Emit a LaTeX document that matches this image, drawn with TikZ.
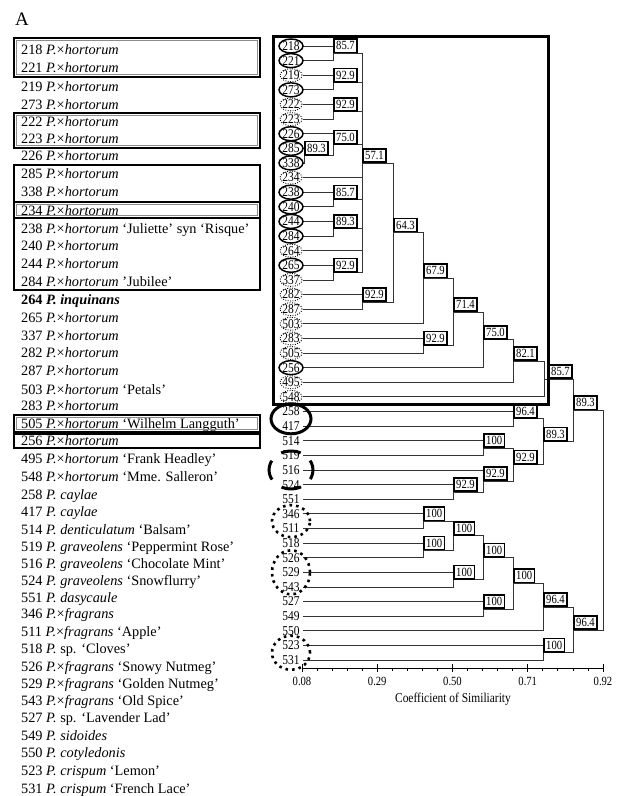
\documentclass[tikz,border=0pt]{standalone}
\usepackage{fontspec}
\setmainfont{Liberation Serif}
\usepackage{graphicx}
\usetikzlibrary{calc}
\newcommand{\cnd}[1]{\scalebox{0.85}[1]{#1}}
\newcommand{\Phort}{\textit{P.}×\textit{hortorum}}
\newcommand{\Pfrag}{\textit{P.}×\textit{fragrans}}
\begin{document}
\begin{tikzpicture}[x=1bp,y=-1bp,
  leaf/.style={inner sep=0pt, font=\fontsize{13.5bp}{14bp}\selectfont},
  lab/.style={anchor=base west, inner sep=0pt, font=\fontsize{14.3bp}{16bp}\selectfont},
  val/.style={draw=black, line width=1.6bp, fill=white, inner xsep=2.4bp, inner ysep=2.4bp, anchor=south west, font=\fontsize{12.5bp}{13bp}\selectfont},
  br/.style={draw=black!80, line width=0.8bp},
  circ/.style={line width=1.5bp},
  dotc/.style={line width=0.9bp, dash pattern=on 0.9bp off 1.5bp},
  grpdot/.style={line width=2.6bp, dash pattern=on 2.6bp off 4bp},
  grpdash/.style={line width=3bp, dash pattern=on 20bp off 12.3bp, dash phase=10bp},
  thickbox/.style={line width=2.6bp},
  innerline/.style={draw=black!45, line width=0.9bp},
  medbox/.style={line width=2bp},
  tick/.style={inner sep=0pt, font=\fontsize{12.5bp}{13bp}\selectfont}
]
\useasboundingbox (0,0) rectangle (618,796);
\fill[white] (0,0) rectangle (618,796);

\node[inner sep=0pt, font=\fontsize{19bp}{20bp}\selectfont] (title) at (22,19) {A};

% ---------- left label column ----------
\node[lab] (t218) at (21,55) {218 \Phort};
\node[lab] (t221) at (21,73) {221 \Phort};
\node[lab] (t219) at (21,91) {219 \Phort};
\node[lab] (t273) at (21,109) {273 \Phort};
\node[lab] (t222) at (21,126) {222 \Phort};
\node[lab] (t223) at (21,143) {223 \Phort};
\node[lab] (t226) at (21,160) {226 \Phort};
\node[lab] (t285) at (21,178) {285 \Phort};
\node[lab] (t338) at (21,196) {338 \Phort};
\node[lab] (t234) at (21,215) {234 \Phort};
\node[lab] (t238) at (21,233.3) {238 \Phort{} ‘Juliette’ syn ‘Risque’};
\node[lab] (t240) at (21,250.7) {240 \Phort};
\node[lab] (t244) at (21,268.3) {244 \Phort};
\node[lab] (t284) at (21,286) {284 \Phort{} 'Jubilee'};
\node[lab] (t264) at (21,304) {\textbf{264 \textit{P. inquinans}}};
\node[lab] (t265) at (21,322.3) {265 \Phort};
\node[lab] (t337) at (21,340) {337 \Phort};
\node[lab] (t282) at (21,357.7) {282 \Phort};
\node[lab] (t287) at (21,375.3) {287 \Phort};
\node[lab] (t503) at (21,394) {503 \Phort{} ‘Petals’};
\node[lab] (t283) at (21,410) {283 \Phort};
\node[lab] (t505) at (21,428) {505 \Phort{} ‘Wilhelm Langguth’};
\node[lab] (t256) at (21,445.5) {256 \Phort};
\node[lab] (t495) at (21,463.5) {495 \Phort{} ‘Frank Headley’};
\node[lab] (t548) at (21,481) {548 \Phort{} ‘Mme. Salleron’};
\node[lab] (t258) at (21,499) {258 \textit{P. caylae}};
\node[lab] (t417) at (21,516.5) {417 \textit{P. caylae}};
\node[lab] (t514) at (21,534) {514 \textit{P. denticulatum} ‘Balsam’};
\node[lab] (t519) at (21,551) {519 \textit{P. graveolens} ‘Peppermint Rose’};
\node[lab] (t516) at (21,568) {516 \textit{P. graveolens} ‘Chocolate Mint’};
\node[lab] (t524) at (21,585) {524 \textit{P. graveolens} ‘Snowflurry’};
\node[lab] (t551) at (21,602) {551 \textit{P. dasycaule}};
\node[lab] (t346) at (21,618.5) {346 \Pfrag};
\node[lab] (t511) at (21,636.5) {511 \Pfrag{} ‘Apple’};
\node[lab] (t518) at (21,653.5) {518 \textit{P.} sp. ‘Cloves’};
\node[lab] (t526) at (21,671) {526 \Pfrag{} ‘Snowy Nutmeg’};
\node[lab] (t529) at (21,688) {529 \Pfrag{} ‘Golden Nutmeg’};
\node[lab] (t543) at (21,705) {543 \Pfrag{} ‘Old Spice’};
\node[lab] (t527) at (21,722.5) {527 \textit{P.} sp. ‘Lavender Lad’};
\node[lab] (t549) at (21,740) {549 \textit{P. sidoides}};
\node[lab] (t550) at (21,757.5) {550 \textit{P. cotyledonis}};
\node[lab] (t523) at (21,775) {523 \textit{P. crispum} ‘Lemon’};
\node[lab] (t531) at (21,793) {531 \textit{P. crispum} ‘French Lace’};

% boxes around labels
\draw[thickbox] (14,38) rectangle (260,77);
\draw[innerline] (16.2,40.2) rectangle (257.8,74.8);
\draw[thickbox] (14,113) rectangle (260,148);
\draw[innerline] (16.2,115.2) rectangle (257.8,145.8);
\draw[medbox] (14,165) rectangle (260,290);
\draw[thickbox] (14,202) rectangle (260,218);
\draw[innerline] (16.2,204.2) rectangle (257.8,215.8);
\draw[thickbox] (14,415) rectangle (260,432);
\draw[innerline] (16.2,417.2) rectangle (257.8,429.8);
\draw[medbox] (14,433.5) rectangle (260,448);

% ---------- dendrogram leaves ----------
\foreach \id [count=\i from 0] in {218,221,219,273,222,223,226,285,338,234,238,240,244,284,264,265,337,282,287,503,283,505,256,495,548,258,417,514,519,516,524,551,346,511,518,526,529,543,527,549,550,523,531}{
  \pgfmathsetmacro\yy{46+14.62*\i}
  \coordinate (p\id) at (303,\yy);
  \node[leaf] (n\id) at (291,\yy) {\cnd{\id}};
}

% internal nodes
\coordinate (k1) at (333,53.3);
\coordinate (k2) at (333,82.6);
\coordinate (k3) at (333,111.8);
\coordinate (k4) at (304,155.7);
\coordinate (k5) at (333,144.7);
\coordinate (k6) at (333,199.5);
\coordinate (k7) at (333,228.8);
\coordinate (k8) at (333,272.6);
\coordinate (k9) at (362,163.0);
\coordinate (k10) at (362,301.9);
\coordinate (k11) at (393,232.4);
\coordinate (k12) at (423,278.1);
\coordinate (k13) at (423,345.7);
\coordinate (k14) at (453,311.9);
\coordinate (k15) at (483,339.8);
\coordinate (k16) at (513,361.0);
\coordinate (k17) at (544,379.0);
\coordinate (k18) at (513,418.8);
\coordinate (k19) at (483,448.0);
\coordinate (k20) at (453,491.9);
\coordinate (k21) at (483,481.0);
\coordinate (k22) at (513,464.5);
\coordinate (k23) at (543,441.7);
\coordinate (k24) at (573,410.3);
\coordinate (k25) at (423,521.2);
\coordinate (k26) at (423,550.4);
\coordinate (k27) at (453,535.8);
\coordinate (k28) at (453,579.6);
\coordinate (k29) at (483,557.7);
\coordinate (k30) at (483,608.9);
\coordinate (k31) at (513,583.3);
\coordinate (k32) at (543,607.0);
\coordinate (k33) at (543,652.7);
\coordinate (k34) at (573,629.9);
\coordinate (k35) at (603,520.1);

\foreach \c/\k in {p218/k1,p221/k1,p219/k2,p273/k2,p222/k3,p223/k3,p285/k4,p338/k4,
  p226/k5,k4/k5,p238/k6,p240/k6,p244/k7,p284/k7,p265/k8,p337/k8,
  k1/k9,k2/k9,k3/k9,k5/k9,p234/k9,k6/k9,k7/k9,p264/k9,k8/k9,
  p282/k10,p287/k10,k9/k11,k10/k11,k11/k12,p503/k12,p283/k13,p505/k13,
  k12/k14,k13/k14,k14/k15,p256/k15,k15/k16,p495/k16,k16/k17,p548/k17,
  p258/k18,p417/k18,p514/k19,p519/k19,p524/k20,p551/k20,p516/k21,k20/k21,
  k19/k22,k21/k22,k18/k23,k22/k23,k17/k24,k23/k24,
  p346/k25,p511/k25,p518/k26,p526/k26,k25/k27,k26/k27,p529/k28,p543/k28,
  k27/k29,k28/k29,p527/k30,p549/k30,k29/k31,k30/k31,k31/k32,p550/k32,
  p523/k33,p531/k33,k32/k34,k33/k34,k24/k35,k34/k35}
  \draw[br] (\c) -| (\k);

% big frame round the x hortorum cluster
\draw[line width=3bp] (273,37) rectangle (548,404);

% value boxes
\foreach \k/\v in {k1/85.7,k2/92.9,k3/92.9,k4/89.3,k5/75.0,k6/85.7,k7/89.3,k8/92.9,
  k9/57.1,k10/92.9,k11/64.3,k12/67.9,k13/92.9,k14/71.4,k15/75.0,k16/82.1,
  k18/96.4,k19/100,k20/92.9,k21/92.9,k22/92.9,k23/89.3,k24/89.3,
  k25/100,k26/100,k27/100,k28/100,k29/100,k30/100,k31/100,k32/96.4,k33/100,k34/96.4}
  \node[val] (v\k) at (\k) {\cnd{\v}};
\node[val, xshift=4bp] (vk17) at (k17) {\cnd{85.7}};

% leaf marks
\foreach \id in {218,221,273,226,285,338,238,240,244,284,265,256}
  \draw[circ] (n\id) ellipse [x radius=12bp, y radius=7bp];
\foreach \id in {219,222,223,234,264,337,282,287,503,283,505,495,548}
  \draw[dotc] (n\id) ellipse [x radius=11bp, y radius=6.5bp];
\draw[line width=3bp] ($(n258)!0.5!(n417)$) ellipse [x radius=20bp, y radius=15bp];
\draw[grpdash] (n516) ellipse [x radius=22bp, y radius=19bp];
\draw[grpdot] ($(n346)!0.5!(n511)$) ellipse [x radius=19bp, y radius=16bp];
\draw[grpdot] (n529) ellipse [x radius=19bp, y radius=22bp];
\draw[grpdot] ($(n523)!0.5!(n531)$) ellipse [x radius=19bp, y radius=17bp];

% axis
\coordinate (ax0) at (302,668);
\coordinate (ax1) at (603,668);
\draw[line width=0.9bp] (ax0) -- (ax1);
\foreach \k in {0,...,20}
  \draw[line width=0.8bp] ({302+15.05*\k},668) -- ++(0,3);
\foreach \k/\t in {0/0.08,1/0.29,2/0.50,3/0.71,4/0.92}{
  \draw[line width=0.9bp] ({302+75.25*\k},664) -- ++(0,8);
  \node[tick] (tk\k) at ({302+75.25*\k},681) {\cnd{\t}};
}
\node[inner sep=0pt, font=\fontsize{13.5bp}{14bp}\selectfont] (axtitle) at (453,699) {\cnd{Coefficient of Similiarity}};
\end{tikzpicture}
\end{document}
